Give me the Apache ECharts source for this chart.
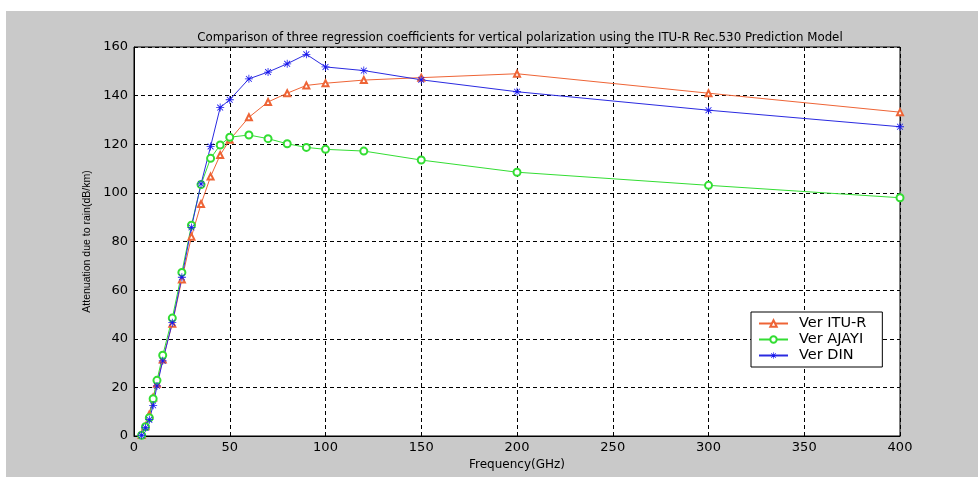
<!DOCTYPE html>
<html>
<head>
<meta charset="utf-8">
<script src="https://cdn.jsdelivr.net/npm/echarts@6/dist/echarts.min.js"></script>
<style>
  html, body { margin: 0; padding: 0; background: #fff; }
  #frame { position: absolute; left: 6px; top: 11px; width: 972px; height: 466px; background: #c9c9c9; }
  #chart { position: absolute; left: 0; top: 0; width: 978px; height: 480px; }
</style>
</head>
<body>
<div id="frame"></div>
<div id="chart"></div>
<script>
var freqs = [4, 6, 8, 10, 12, 15, 20, 25, 30, 35, 40, 45, 50, 60, 70, 80, 90, 100, 120, 150, 200, 300, 400];
var ituR = [0.4, 4.0, 8.8, 15.8, 21.5, 31.5, 46.2, 64.4, 82.0, 95.4, 106.7, 115.6, 121.8, 131.1, 137.4, 141.0, 144.2, 145.1, 146.4, 147.4, 149.0, 141.0, 133.2];
var ajayi = [0.3, 3.8, 7.5, 15.3, 22.9, 33.2, 48.5, 67.3, 86.7, 103.4, 114.2, 119.7, 122.9, 123.8, 122.3, 120.2, 118.7, 117.9, 117.2, 113.5, 108.5, 103.1, 98.0];
var din = [0.3, 3.4, 6.7, 12.6, 20.6, 30.9, 46.6, 65.3, 85.8, 103.7, 119.1, 135.1, 138.3, 146.9, 149.7, 153.1, 157.0, 151.8, 150.3, 146.5, 141.6, 134.0, 127.2];
var seriesNames = ["Ver ITU-R", "Ver AJAYI", "Ver DIN"];

function pairs(ys) {
  var out = [];
  for (var i = 0; i < freqs.length; i++) out.push([freqs[i], ys[i]]);
  return out;
}

// asterisk marker like matlab '*'
var starPath = "path://M4.5,0h1v10h-1z M0,4.5h10v1h-10z M1,1.7L1.7,1L9,8.3L8.3,9z M8.3,1L9,1.7L1.7,9L1,8.3z";
var font = "DejaVu Sans";

var chart = echarts.init(document.getElementById("chart"));
var option = {
  animation: false,
  title: {
    text: "Comparison of three regression coefficients for vertical polarization using the ITU-R Rec.530 Prediction Model",
    left: 515,
    textAlign: "center",
    top: 27,
    textStyle: { fontFamily: font, fontSize: 11.8, fontWeight: "normal", color: "#000" }
  },
  grid: {
    left: 134, right: 78, top: 47, bottom: 44,
    show: true, backgroundColor: "#fff", borderColor: "#000", borderWidth: 1
  },
  legend: {
    orient: "vertical",
    left: 751, top: 312,
    padding: [4, 16, 4, 7],
    itemWidth: 29, itemHeight: 8, itemGap: 1,
    backgroundColor: "#fff", borderColor: "#000", borderWidth: 1, borderRadius: 0,
    textStyle: { fontFamily: font, fontSize: 14.5, color: "#000", padding: [0, 0, 0, 6] },
    data: seriesNames
  },
  xAxis: {
    type: "value", min: 0, max: 400, interval: 50,
    name: "Frequency(GHz)", nameLocation: "middle", nameGap: 22,
    nameTextStyle: { fontFamily: font, fontSize: 12, color: "#000" },
    axisLine: { show: true, onZero: false, lineStyle: { color: "#000", width: 1 } },
    axisTick: { show: true, inside: true, length: 4, lineStyle: { color: "#000" } },
    axisLabel: { fontFamily: font, fontSize: 13, color: "#000", margin: 5 },
    splitLine: { show: true, lineStyle: { color: "#000", type: [4, 3], width: 1 } }
  },
  yAxis: {
    type: "value", min: 0, max: 160, interval: 20,
    name: "Attenuation due to rain(dB/km)", nameLocation: "middle", nameGap: 40,
    nameTextStyle: { fontFamily: "Liberation Sans", fontSize: 10.5, color: "#000" },
    axisLine: { show: true, lineStyle: { color: "#000", width: 1 } },
    axisTick: { show: true, inside: true, length: 4, lineStyle: { color: "#000" } },
    axisLabel: { fontFamily: font, fontSize: 13, color: "#000", margin: 6 },
    splitLine: { show: true, lineStyle: { color: "#000", type: [4, 3], width: 1 } }
  },
  series: [
    {
      name: seriesNames[0], type: "line", data: pairs(ituR),
      symbol: "emptyTriangle", symbolSize: 6,
      lineStyle: { color: "#ee6436", width: 1 },
      itemStyle: { color: "#ee6436", borderWidth: 1 }
    },
    {
      name: seriesNames[1], type: "line", data: pairs(ajayi),
      symbol: "emptyCircle", symbolSize: 7,
      lineStyle: { color: "#33dd33", width: 1 },
      itemStyle: { color: "#33dd33", borderWidth: 1 }
    },
    {
      name: seriesNames[2], type: "line", data: pairs(din),
      symbol: starPath, symbolSize: 8,
      lineStyle: { color: "#2a2ae0", width: 1 },
      itemStyle: { color: "#1818ee" }
    }
  ]
};
chart.setOption(option);
</script>
</body>
</html>
